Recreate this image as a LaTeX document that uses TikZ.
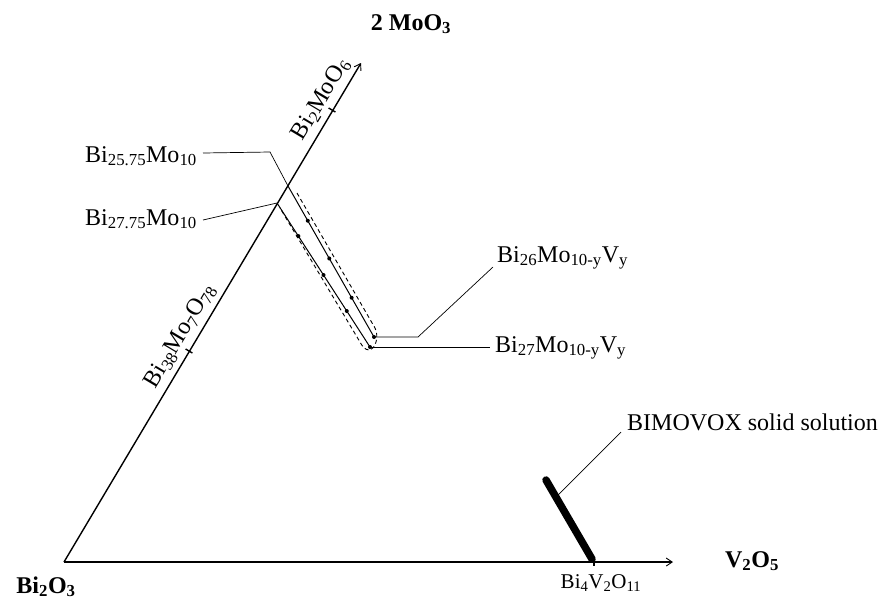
\documentclass[tikz,border=0pt]{standalone}
\usepackage{fontspec}
\setmainfont{Liberation Serif}
\usetikzlibrary{arrows.meta,calc}
\newcommand\sbs[1]{\textsubscript{#1}}
\begin{document}
\begin{tikzpicture}[x=1pt,y=-1pt,
  axis/.style={line width=1.4pt},
  lead/.style={line width=0.7pt},
  solidln/.style={line width=1pt},
  dashln/.style={line width=0.9pt, dash pattern=on 4pt off 3pt},
  dotm/.style={circle, fill=black, inner sep=0pt, minimum size=4pt},
  lbl/.style={font=\fontsize{24}{28}\selectfont, inner sep=0pt},
  slbl/.style={font=\fontsize{21}{25}\selectfont, inner sep=0pt},
  blbl/.style={font=\fontsize{24}{28}\selectfont\bfseries, inner sep=0pt},
  tip/.style={-{Straight Barb[length=6pt,width=8pt,line width=0.9pt]}}]
\useasboundingbox (0,0) rectangle (878,603);
% axes
\coordinate (O) at (64,562);
\coordinate (Xend) at (673,562);
\coordinate (Yend) at (361,63);
\draw[axis,tip] (O) -- (Xend);
\draw[axis,tip] (O) -- (Yend);
% ticks
\coordinate (T38) at (189,351);
\coordinate (T2) at (332,110);
\coordinate (TV) at (594,562);
\draw[axis] ([shift={(-3.4,-2)}]T38) -- ([shift={(3.4,2)}]T38);
\draw[axis] ([shift={(-3.4,-2)}]T2) -- ([shift={(3.4,2)}]T2);
\draw[axis] ([shift={(0,-4)}]TV) -- ([shift={(0,4)}]TV);
% axis labels
\node[blbl, anchor=base] (lmo) at (411,30) {2 MoO\sbs{3}};
\node[blbl, anchor=base] (lv) at (752,567) {V\sbs{2}O\sbs{5}};
\node[blbl, anchor=base] (lbi) at (46,593) {Bi\sbs{2}O\sbs{3}};
\node[slbl, anchor=base] (lbv) at (601,588) {Bi\sbs{4}V\sbs{2}O\sbs{11}};
\node[lbl, anchor=south, rotate=59.2, inner sep=5pt] (l38) at ($(T38)+(4,-7)$) {Bi\sbs{38}Mo\sbs{7}O\sbs{78}};
\node[lbl, anchor=south, rotate=59.2, inner sep=5pt] (l2) at ($(T2)+(2,-3)$) {Bi\sbs{2}MoO\sbs{6}};
% solid solution lines
\coordinate (P1) at (288,186);
\coordinate (Q1) at (374,337);
\coordinate (P2) at (277,203);
\coordinate (Q2) at (370,347);
\draw[solidln] (P1) -- (Q1);
\draw[solidln] (P2) -- (Q2);
\foreach \t in {0.23,0.48,0.74,1} {
  \node[dotm] at ($(P1)!\t!(Q1)$) {};
}
\foreach \t in {0.23,0.50,0.75,1} {
  \node[dotm] at ($(P2)!\t!(Q2)$) {};
}
\draw[dashln] (297,193) -- (375,328) .. controls (379,336) and (376,349) .. (369,350)
  .. controls (365,350) and (362,346) .. (360,342) -- (280,208);
% leaders to lines
\node[lbl, anchor=base east] (l2575) at (197,162) {Bi\sbs{25.75}Mo\sbs{10}};
\node[lbl, anchor=base east] (l2775) at (197,225) {Bi\sbs{27.75}Mo\sbs{10}};
\draw[lead] (203,153) -- (270,152) -- (P1);
\draw[lead] (203,220) -- (P2);
\node[lbl, anchor=base west] (l26) at (497,262) {Bi\sbs{26}Mo\sbs{10-y}V\sbs{y}};
\node[lbl, anchor=base west] (l27) at (495,352) {Bi\sbs{27}Mo\sbs{10-y}V\sbs{y}};
\draw[lead] (Q1) -- (418,337) -- (493,267);
\draw[lead] (Q2) -- (490,347);
% BIMOVOX
\coordinate (B1) at (546,480);
\coordinate (B2) at (592,559);
\draw[line width=7.5pt, line cap=round] (B1) -- (B2);
\node[lbl, anchor=base west] (lbm) at (627,430) {BIMOVOX solid solution};
\draw[lead] ($(B1)!0.2!(B2)+(2,0)$) -- (621,432);
\end{tikzpicture}
\end{document}
